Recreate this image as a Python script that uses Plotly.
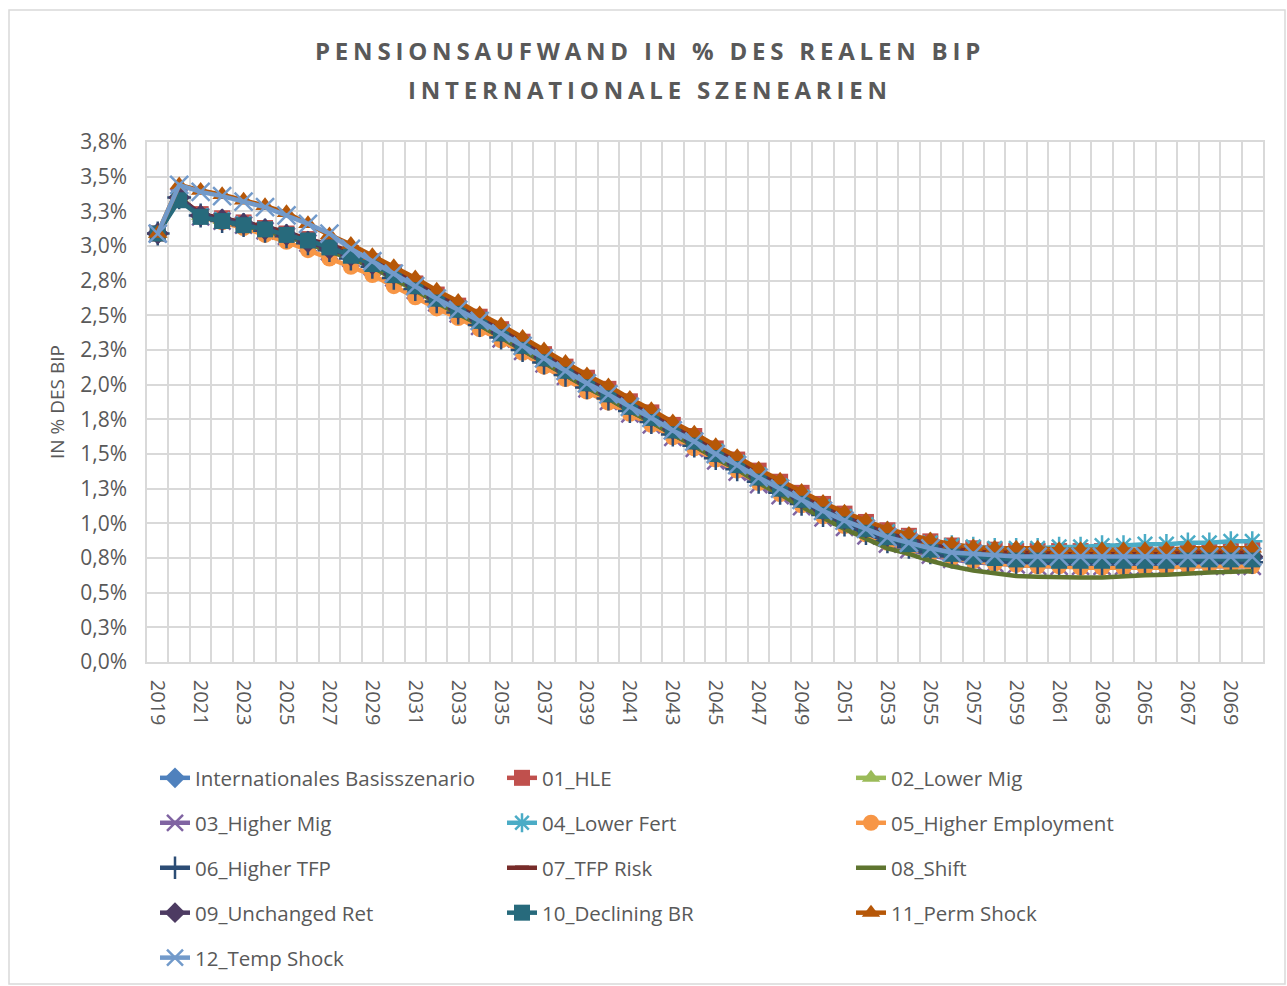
import plotly.graph_objects as go

YEARS = list(range(2019, 2071))

TITLE_LINE_1 = "PENSIONSAUFWAND IN % DES REALEN BIP"
TITLE_LINE_2 = "INTERNATIONALE SZENEARIEN"
Y_TITLE = "IN % DES BIP"

Y_TICK_VALUES = [0, 0.25, 0.5, 0.75, 1.0, 1.25, 1.5, 1.75, 2.0, 2.25, 2.5, 2.75, 3.0, 3.25, 3.5, 3.75]
Y_TICK_TEXT = ["0,0%", "0,3%", "0,5%", "0,8%", "1,0%", "1,3%", "1,5%", "1,8%",
               "2,0%", "2,3%", "2,5%", "2,8%", "3,0%", "3,3%", "3,5%", "3,8%"]
X_TICK_YEARS = [2019, 2021, 2023, 2025, 2027, 2029, 2031, 2033, 2035, 2037, 2039, 2041, 2043,
                2045, 2047, 2049, 2051, 2053, 2055, 2057, 2059, 2061, 2063, 2065, 2067, 2069]

# values in % of GDP, 2019..2070
basis = [3.09, 3.35, 3.22, 3.19, 3.16, 3.12, 3.08, 3.03, 2.98, 2.93,
         2.87, 2.79, 2.71, 2.62, 2.54, 2.46, 2.37, 2.28, 2.19, 2.10,
         2.01, 1.93, 1.84, 1.76, 1.67, 1.59, 1.50, 1.42, 1.33, 1.25,
         1.17, 1.09, 1.02, 0.96, 0.90, 0.86, 0.82, 0.79, 0.77, 0.76,
         0.75, 0.75, 0.74, 0.74, 0.74, 0.74, 0.74, 0.74, 0.75, 0.75,
         0.75, 0.75]
hle_01 = [3.09, 3.35, 3.23, 3.20, 3.17, 3.13, 3.09, 3.05, 3.00, 2.95,
          2.89, 2.81, 2.73, 2.65, 2.57, 2.49, 2.40, 2.31, 2.22, 2.13,
          2.05, 1.97, 1.88, 1.80, 1.71, 1.63, 1.54, 1.46, 1.38, 1.30,
          1.22, 1.14, 1.07, 1.01, 0.95, 0.91, 0.87, 0.84, 0.82, 0.81,
          0.80, 0.80, 0.80, 0.80, 0.80, 0.80, 0.80, 0.80, 0.81, 0.81,
          0.81, 0.81]
lower_mig_02 = [3.09, 3.35, 3.22, 3.19, 3.16, 3.12, 3.08, 3.04, 2.99, 2.94,
                2.88, 2.80, 2.72, 2.64, 2.56, 2.48, 2.39, 2.30, 2.21, 2.12,
                2.03, 1.95, 1.86, 1.78, 1.69, 1.61, 1.52, 1.44, 1.36, 1.28,
                1.20, 1.12, 1.05, 0.99, 0.93, 0.89, 0.85, 0.82, 0.80, 0.79,
                0.78, 0.78, 0.77, 0.77, 0.77, 0.77, 0.77, 0.78, 0.78, 0.78,
                0.78, 0.78]
higher_mig_03 = [3.09, 3.35, 3.21, 3.18, 3.15, 3.11, 3.07, 3.02, 2.96, 2.91,
                 2.85, 2.77, 2.68, 2.59, 2.51, 2.42, 2.33, 2.24, 2.15, 2.06,
                 1.97, 1.88, 1.79, 1.71, 1.62, 1.54, 1.45, 1.37, 1.28, 1.20,
                 1.12, 1.04, 0.97, 0.91, 0.85, 0.81, 0.77, 0.74, 0.72, 0.71,
                 0.70, 0.69, 0.69, 0.69, 0.69, 0.69, 0.69, 0.69, 0.69, 0.69,
                 0.69, 0.69]
lower_fert_04 = [3.09, 3.35, 3.22, 3.19, 3.16, 3.12, 3.08, 3.03, 2.98, 2.93,
                 2.87, 2.79, 2.71, 2.63, 2.55, 2.47, 2.38, 2.29, 2.20, 2.11,
                 2.02, 1.94, 1.85, 1.77, 1.68, 1.60, 1.52, 1.44, 1.35, 1.27,
                 1.19, 1.12, 1.05, 0.99, 0.94, 0.90, 0.86, 0.84, 0.83, 0.82,
                 0.82, 0.82, 0.83, 0.83, 0.84, 0.84, 0.85, 0.85, 0.86, 0.86,
                 0.87, 0.87]
higher_emp_05 = [3.09, 3.35, 3.21, 3.17, 3.13, 3.08, 3.03, 2.97, 2.91, 2.85,
                 2.79, 2.71, 2.63, 2.55, 2.48, 2.40, 2.32, 2.23, 2.13, 2.04,
                 1.95, 1.87, 1.79, 1.71, 1.62, 1.54, 1.46, 1.38, 1.29, 1.21,
                 1.13, 1.05, 0.98, 0.92, 0.86, 0.82, 0.78, 0.75, 0.73, 0.71,
                 0.70, 0.69, 0.69, 0.68, 0.68, 0.68, 0.68, 0.68, 0.69, 0.69,
                 0.69, 0.69]
higher_tfp_06 = [3.09, 3.35, 3.22, 3.18, 3.15, 3.11, 3.07, 3.02, 2.97, 2.91,
                 2.85, 2.77, 2.69, 2.60, 2.52, 2.43, 2.34, 2.25, 2.16, 2.07,
                 1.98, 1.90, 1.81, 1.73, 1.64, 1.56, 1.47, 1.39, 1.30, 1.22,
                 1.14, 1.06, 0.99, 0.93, 0.87, 0.83, 0.79, 0.76, 0.74, 0.73,
                 0.72, 0.72, 0.71, 0.71, 0.71, 0.71, 0.71, 0.71, 0.72, 0.72,
                 0.72, 0.72]
tfp_risk_07 = [3.09, 3.35, 3.23, 3.20, 3.17, 3.14, 3.10, 3.05, 3.01, 2.96,
               2.90, 2.82, 2.74, 2.66, 2.58, 2.49, 2.41, 2.32, 2.23, 2.14,
               2.05, 1.97, 1.88, 1.80, 1.71, 1.63, 1.54, 1.46, 1.37, 1.29,
               1.21, 1.13, 1.06, 1.00, 0.94, 0.90, 0.86, 0.83, 0.81, 0.80,
               0.79, 0.79, 0.78, 0.78, 0.78, 0.78, 0.78, 0.78, 0.79, 0.79,
               0.79, 0.79]
shift_08 = [3.09, 3.35, 3.21, 3.18, 3.15, 3.11, 3.07, 3.02, 2.96, 2.91,
            2.85, 2.76, 2.68, 2.59, 2.51, 2.43, 2.34, 2.25, 2.16, 2.07,
            1.98, 1.90, 1.81, 1.73, 1.64, 1.56, 1.47, 1.39, 1.29, 1.21,
            1.12, 1.04, 0.96, 0.89, 0.82, 0.78, 0.73, 0.69, 0.66, 0.64,
            0.62, 0.615, 0.61, 0.61, 0.61, 0.62, 0.625, 0.63, 0.64, 0.645,
            0.65, 0.655]
unchanged_ret_09 = [3.09, 3.35, 3.22, 3.19, 3.16, 3.12, 3.08, 3.03, 2.98, 2.93,
                    2.87, 2.80, 2.72, 2.63, 2.55, 2.47, 2.38, 2.29, 2.20, 2.11,
                    2.02, 1.94, 1.85, 1.77, 1.68, 1.60, 1.51, 1.43, 1.34, 1.26,
                    1.18, 1.10, 1.03, 0.97, 0.91, 0.87, 0.83, 0.80, 0.78, 0.77,
                    0.76, 0.76, 0.75, 0.75, 0.75, 0.75, 0.75, 0.75, 0.76, 0.76,
                    0.76, 0.76]
declining_br_10 = [3.09, 3.33, 3.21, 3.18, 3.15, 3.12, 3.08, 3.04, 2.99, 2.93,
                   2.87, 2.79, 2.71, 2.62, 2.54, 2.46, 2.37, 2.28, 2.19, 2.10,
                   2.01, 1.93, 1.84, 1.76, 1.67, 1.59, 1.50, 1.42, 1.33, 1.25,
                   1.17, 1.09, 1.02, 0.96, 0.90, 0.85, 0.81, 0.78, 0.76, 0.75,
                   0.74, 0.74, 0.73, 0.73, 0.73, 0.73, 0.73, 0.73, 0.74, 0.74,
                   0.74, 0.74]
perm_shock_11 = [3.09, 3.44, 3.40, 3.37, 3.33, 3.29, 3.24, 3.16, 3.08, 3.01,
                 2.93, 2.85, 2.77, 2.68, 2.60, 2.51, 2.43, 2.34, 2.25, 2.16,
                 2.07, 1.99, 1.90, 1.82, 1.73, 1.65, 1.56, 1.48, 1.39, 1.31,
                 1.23, 1.15, 1.08, 1.02, 0.96, 0.92, 0.88, 0.85, 0.83, 0.82,
                 0.82, 0.82, 0.81, 0.81, 0.81, 0.81, 0.81, 0.81, 0.82, 0.82,
                 0.82, 0.82]
temp_shock_12 = [3.09, 3.44, 3.39, 3.36, 3.32, 3.28, 3.22, 3.16, 3.09, 2.98,
                 2.89, 2.80, 2.71, 2.62, 2.54, 2.46, 2.37, 2.28, 2.19, 2.10,
                 2.01, 1.93, 1.84, 1.76, 1.67, 1.59, 1.50, 1.42, 1.33, 1.25,
                 1.17, 1.09, 1.02, 0.96, 0.90, 0.86, 0.82, 0.79, 0.78, 0.77,
                 0.76, 0.76, 0.76, 0.76, 0.76, 0.76, 0.76, 0.76, 0.76, 0.76,
                 0.76, 0.76]

SERIES_NAMES = ["Internationales Basisszenario", "01_HLE", "02_Lower Mig", "03_Higher Mig",
                "04_Lower Fert", "05_Higher Employment", "06_Higher TFP", "07_TFP Risk",
                "08_Shift", "09_Unchanged Ret", "10_Declining BR", "11_Perm Shock", "12_Temp Shock"]
SERIES_VALUES = [basis, hle_01, lower_mig_02, higher_mig_03, lower_fert_04, higher_emp_05,
                 higher_tfp_06, tfp_risk_07, shift_08, unchanged_ret_09, declining_br_10,
                 perm_shock_11, temp_shock_12]

# styles
COLORS = ["#4F81BD", "#C0504D", "#9BBB59", "#8064A2", "#4BACC6", "#F79646", "#2C4D75",
          "#772C2A", "#5F7530", "#4D3B62", "#276A7C", "#B65708", "#729ACA"]
SYMBOLS = ["diamond", "square", "triangle-up", "x-thin-open", "asterisk-open", "circle",
           "cross-thin-open", "line-ew-open", None, "diamond", "square", "triangle-up", "x-thin-open"]
SIZES = [17, 16, 17, 17, 17, 16, 17, 10, 0, 17, 16, 17, 18]

TEXT = "#595959"
GRID = "#d9d9d9"
FONT = "Open Sans"

fig = go.Figure()
legend_ids = ["legend", "legend2", "legend3"]
for i, (name, vals) in enumerate(zip(SERIES_NAMES, SERIES_VALUES)):
    col = COLORS[i]
    sym = SYMBOLS[i]
    kw = dict(x=YEARS, y=vals, name=name, legendgroup=name, legend=legend_ids[i % 3],
              line=dict(color=col, width=4.5))
    if sym is None:
        kw["mode"] = "lines"
    else:
        kw["mode"] = "lines+markers"
        if sym.endswith("open"):
            kw["marker"] = dict(symbol=sym, size=SIZES[i], color=col,
                                line=dict(color=col, width=2.5 if "line-ew" not in sym else 4.5))
        else:
            kw["marker"] = dict(symbol=sym, size=SIZES[i], color=col, line=dict(width=0))
    fig.add_trace(go.Scatter(**kw))

PL, PR, PT, PB = 147, 1263, 142, 662
W, H = 1287, 986
PW, PH = PR - PL, PB - PT


def px_x(p):
    return (p - PL) / PW


def px_y(p):
    return (PB - p) / PH


legend_common = dict(orientation="v", yanchor="top", xanchor="left", tracegroupgap=15.3,
                     font=dict(family=FONT, size=20.5, color=TEXT), bgcolor="rgba(0,0,0,0)",
                     itemwidth=30, xref="container", yref="container", y=1 - 758 / H)
fig.update_layout(
    width=W, height=H,
    margin=dict(l=PL, r=W - PR, t=PT, b=H - PB, autoexpand=False),
    paper_bgcolor="white", plot_bgcolor="white",
    font=dict(family=FONT, color=TEXT, size=20),
    showlegend=True,
    legend=dict(x=155 / W, **legend_common),
    legend2=dict(x=502 / W, **legend_common),
    legend3=dict(x=851 / W, **legend_common),
    xaxis=dict(range=[2018.5, 2070.5], tickmode="array", tickvals=X_TICK_YEARS,
               ticktext=[str(y) for y in X_TICK_YEARS], tickangle=90, showgrid=False,
               zeroline=False, showline=True, linecolor=GRID, linewidth=1.5, mirror=True,
               ticks="", ticklabelstandoff=12, tickfont=dict(family=FONT, size=20, color=TEXT),
               minor=dict(tick0=2018.5, dtick=1, showgrid=True, gridcolor=GRID, gridwidth=1.5,
                          ticks="")),
    yaxis=dict(range=[0, 3.75], tickmode="array", tickvals=Y_TICK_VALUES, ticktext=Y_TICK_TEXT,
               showgrid=True, gridcolor=GRID, gridwidth=1.5, zeroline=False, showline=True,
               linecolor=GRID, linewidth=1.5, mirror=True, ticks="", ticklabelstandoff=14,
               tickfont=dict(family=FONT, size=21, color=TEXT)),
    annotations=[
        dict(text="<b>" + TITLE_LINE_1 + "</b>", xref="paper", yref="paper",
             x=px_x(650), y=px_y(51), showarrow=False, xanchor="center", yanchor="middle",
             font=dict(family=FONT, size=24, color=TEXT)),
        dict(text="<b>" + TITLE_LINE_2 + "</b>", xref="paper", yref="paper",
             x=px_x(650), y=px_y(90), showarrow=False, xanchor="center", yanchor="middle",
             font=dict(family=FONT, size=24, color=TEXT)),
        dict(text=Y_TITLE, xref="paper", yref="paper", x=px_x(57), y=0.5, textangle=-90,
             showarrow=False, xanchor="center", yanchor="middle",
             font=dict(family=FONT, size=19, color=TEXT)),
    ],
    shapes=[dict(type="rect", xref="paper", yref="paper", x0=px_x(9), x1=px_x(1285),
                 y0=px_y(984), y1=px_y(10), line=dict(color=GRID, width=1.5), layer="below")],
)

post = """
document.body.style.margin='0';
document.body.style.overflow='hidden';
var gd = document.getElementById('{plot_id}');
function spacing(){
  document.querySelectorAll('.annotation-text').forEach(function(t){
    var s = t.textContent;
    if (s.indexOf('PENSIONSAUFWAND') === 0 || s.indexOf('INTERNATIONALE') === 0) {
      t.style.letterSpacing = '4.8px';
    }
  });
}
spacing();
gd.on('plotly_afterplot', spacing);
"""
fig.write_html("out.html", post_script=post, config={"displayModeBar": False})
